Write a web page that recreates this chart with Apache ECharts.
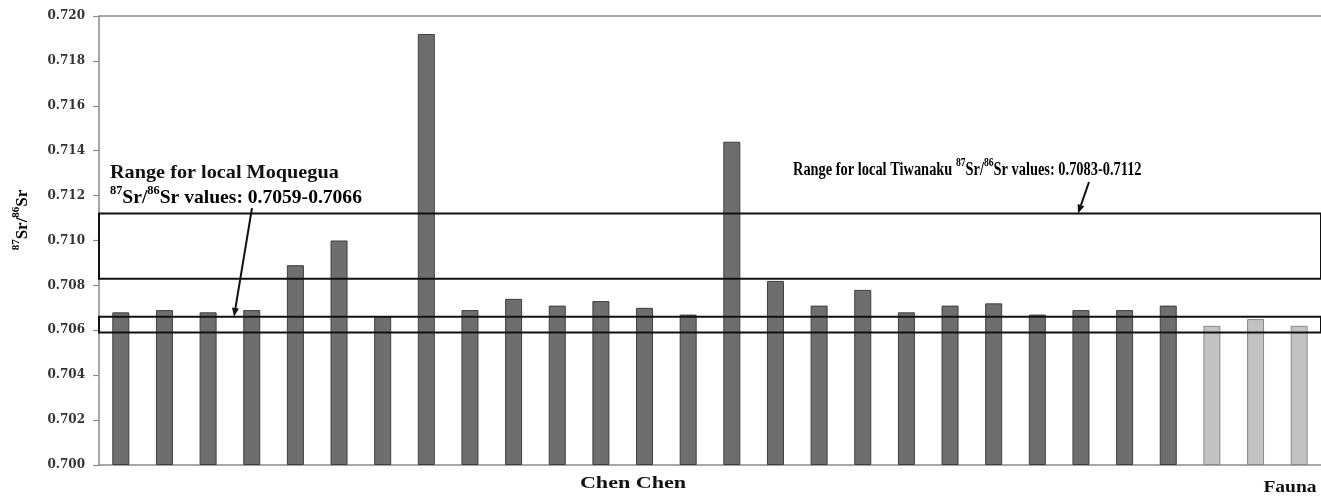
<!DOCTYPE html>
<html>
<head>
<meta charset="utf-8">
<script src="https://cdn.jsdelivr.net/npm/echarts@6/dist/echarts.min.js"></script>
<style>
  html, body { margin: 0; padding: 0; background: #ffffff; }
  #chart { width: 1321px; height: 497px; }
</style>
</head>
<body>
<div id="chart"></div>
<script>
// 87Sr/86Sr ratios: human samples from Chen Chen, then local fauna
const categories = [
  'CC-01', 'CC-02', 'CC-03', 'CC-04', 'CC-05', 'CC-06', 'CC-07', 'CC-08', 'CC-09', 'CC-10',
  'CC-11', 'CC-12', 'CC-13', 'CC-14', 'CC-15', 'CC-16', 'CC-17', 'CC-18', 'CC-19', 'CC-20',
  'CC-21', 'CC-22', 'CC-23', 'CC-24', 'CC-25', 'F-01', 'F-02', 'F-03'
];
const chenChenValues = [
  0.7068, 0.7069, 0.7068, 0.7069, 0.7089, 0.7100, 0.7066, 0.7192, 0.7069, 0.7074,
  0.7071, 0.7073, 0.7070, 0.7067, 0.7144, 0.7082, 0.7071, 0.7078, 0.7068, 0.7071,
  0.7072, 0.7067, 0.7069, 0.7069, 0.7071
];
const faunaValues = [0.7062, 0.7065, 0.7062];

// local baseline ranges
const moqueguaRange = [0.7059, 0.7066];
const tiwanakuRange = [0.7083, 0.7112];

const yMin = 0.700, yMax = 0.720, yStep = 0.002;

const darkBar = { color: '#6e6e6e', borderColor: '#3e3e3e', borderWidth: 1 };
const lightBar = { color: '#c2c2c2', borderColor: '#8a8a8a', borderWidth: 1 };

const barData = chenChenValues.map(v => ({ value: v, itemStyle: darkBar }))
  .concat(faunaValues.map(v => ({ value: v, itemStyle: lightBar })));

const axisGray = '#8a8a8a';
const serif = '"Liberation Serif", "Times New Roman", serif';

const chart = echarts.init(document.getElementById('chart'), null, { renderer: 'canvas' });

chart.setOption({
  animation: false,
  backgroundColor: '#ffffff',
  grid: { left: 99, right: 0, top: 16, bottom: 32 },
  xAxis: {
    type: 'category',
    data: categories,
    axisLine: { lineStyle: { color: axisGray, width: 1.5 } },
    axisTick: { show: false },
    axisLabel: { show: false },
    splitLine: { show: false }
  },
  yAxis: {
    type: 'value',
    min: yMin,
    max: yMax,
    interval: yStep,
    startValue: yMin,
    axisLine: { show: true, lineStyle: { color: axisGray, width: 1.5 } },
    axisTick: { show: true, length: 6, lineStyle: { color: axisGray, width: 1.2 } },
    axisLabel: {
      margin: 14,
      formatter: v => v.toFixed(3),
      fontFamily: '"DejaVu Serif", serif',
      fontWeight: 'bold',
      fontSize: 12,
      color: '#333333'
    },
    splitLine: { show: false }
  },
  series: [{
    type: 'bar',
    data: barData,
    barWidth: 17,
    markArea: {
      silent: true,
      z: 5,
      itemStyle: { color: 'rgba(0,0,0,0)', borderColor: '#111111', borderWidth: 2 },
      label: { show: false },
      data: [
        [{ yAxis: moqueguaRange[0] }, { yAxis: moqueguaRange[1] }],
        [{ yAxis: tiwanakuRange[0] }, { yAxis: tiwanakuRange[1] }]
      ]
    },
    markLine: {
      silent: true,
      symbol: 'none',
      label: { show: false },
      lineStyle: { color: axisGray, width: 1.5, type: 'solid' },
      data: [{ yAxis: yMax }]
    }
  }]
});

// arrow from a label down to the edge of a range box
function arrow(x0, y0, x1, y1) {
  const ang = Math.atan2(y1 - y0, x1 - x0);
  const len = 9, half = 3.5;
  const bx = x1 - len * Math.cos(ang), by = y1 - len * Math.sin(ang);
  const px = -Math.sin(ang) * half, py = Math.cos(ang) * half;
  return [
    { type: 'line', z: 10, shape: { x1: x0, y1: y0, x2: bx, y2: by },
      style: { stroke: '#111111', lineWidth: 2 } },
    { type: 'polygon', z: 10, shape: { points: [[x1, y1], [bx + px, by + py], [bx - px, by - py]] },
      style: { fill: '#111111' } }
  ];
}

const yPix = v => chart.convertToPixel({ yAxisIndex: 0 }, v);
const moqTop = yPix(moqueguaRange[1]);
const tiwTop = yPix(tiwanakuRange[1]);

// rich styles giving raised isotope mass numbers
function supStyles(size, supSize, color) {
  return {
    b: { fontFamily: serif, fontWeight: 'bold', fontSize: size, color: color,
      lineHeight: Math.round(size * 1.2), verticalAlign: 'bottom' },
    sup: { fontFamily: serif, fontWeight: 'bold', fontSize: supSize, color: color,
      lineHeight: Math.round(supSize * 1.1), verticalAlign: 'top' }
  };
}

chart.setOption({
  graphic: [
    // rotated y-axis title
    { type: 'text', x: 21, y: 220, rotation: Math.PI / 2,
      style: { text: '{sup|87}{b|Sr/}{sup|86}{b|Sr}', align: 'center', verticalAlign: 'middle',
        rich: supStyles(17, 11, '#222') } },
    // Moquegua note
    { type: 'text', x: 110, y: 173, scaleX: 1.065,
      style: { text: 'Range for local Moquegua', fontFamily: serif, fontWeight: 'bold', fontSize: 19,
        fill: '#111', align: 'left', verticalAlign: 'middle' } },
    { type: 'text', x: 110, y: 196, scaleX: 1.03,
      style: { text: '{sup|87}{b|Sr/}{sup|86}{b|Sr values: 0.7059-0.7066}', align: 'left',
        verticalAlign: 'middle', rich: supStyles(19, 12, '#111') } },
    // Tiwanaku note
    { type: 'text', x: 793, y: 168, scaleX: 0.8,
      style: { text: '{b|Range for local Tiwanaku }{sup|87}{b|Sr/}{sup|86}{b|Sr values: 0.7083-0.7112}',
        align: 'left', verticalAlign: 'middle', rich: supStyles(18, 12, '#111') } },
    // group labels under the axis
    { type: 'text', x: 633, y: 484, scaleX: 1.3,
      style: { text: 'Chen Chen', fontFamily: serif, fontWeight: 'bold', fontSize: 17, fill: '#111',
        align: 'center', verticalAlign: 'middle' } },
    { type: 'text', x: 1290, y: 488, scaleX: 1.15,
      style: { text: 'Fauna', fontFamily: serif, fontWeight: 'bold', fontSize: 17, fill: '#111',
        align: 'center', verticalAlign: 'middle' } }
  ].concat(arrow(252, 208, 234, moqTop), arrow(1089, 182, 1078, tiwTop))
});
</script>
</body>
</html>
